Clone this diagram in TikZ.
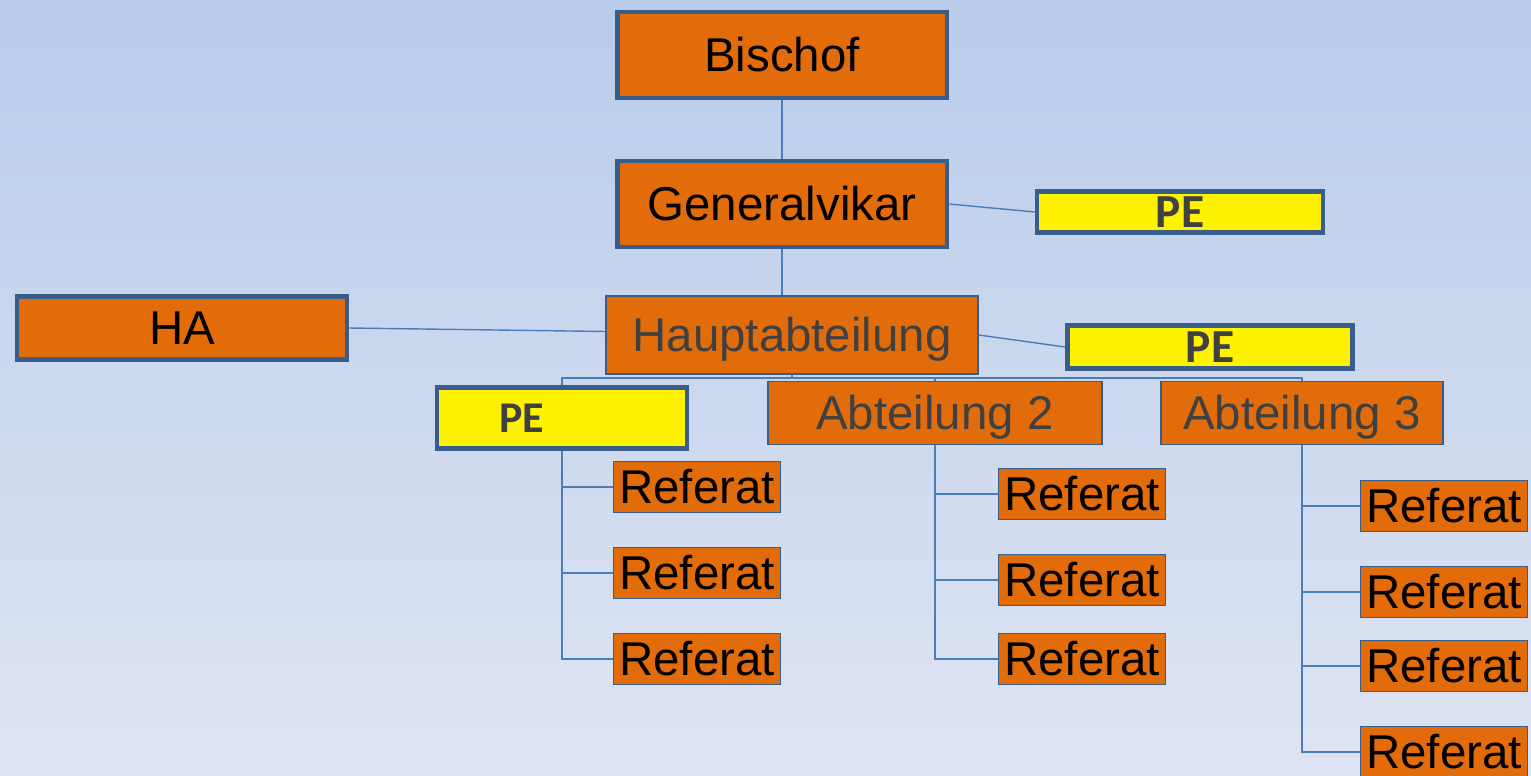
\documentclass[tikz,border=0pt]{standalone}
\usepackage{fontspec}
\setmainfont{Liberation Sans}
\newfontfamily\pefont{Carlito}
\usetikzlibrary{positioning}
\definecolor{org}{RGB}{227,108,10}
\definecolor{bdr}{RGB}{56,93,138}
\definecolor{lnc}{RGB}{74,126,187}
\definecolor{txg}{RGB}{64,64,64}
\definecolor{bgtop}{RGB}{185,204,234}
\definecolor{bgbot}{RGB}{222,228,243}
\tikzset{bx/.style={draw=bdr,line width=2.8pt,fill=org,inner sep=0pt,text height=19.3pt,text depth=0pt,font=\fontsize{27}{32}\selectfont},
 tb/.style={draw=bdr,line width=0.8pt,fill=org,inner sep=0pt,text height=19.3pt,text depth=0pt,font=\fontsize{27}{32}\selectfont},
 pe/.style={draw=bdr,line width=2.6pt,fill=yellow,inner sep=0pt,text=txg,text height=17.4pt,text depth=0pt,font=\pefont\bfseries\fontsize{27}{32}\selectfont},
 rf/.style={tb,minimum width=3.34cm,minimum height=1.02cm},
 ln/.style={draw=lnc,line width=0.8pt}}

\begin{document}
\begin{tikzpicture}[x=0.02cm,y=-0.02cm]
\useasboundingbox (0,0) rectangle (1531,775);\clip (0,0) rectangle (1531,775);
\fill[top color=bgtop,bottom color=bgbot] (0,0) rectangle (1531,775);
% obere Ebene
\node[bx,minimum width=6.6cm,minimum height=1.72cm](bis) at (782,55){Bischof};
\node[bx,minimum width=6.6cm,minimum height=1.72cm](gv) at (782,204){Generalvikar};
\node[pe,minimum width=5.72cm,minimum height=0.82cm](pe1) at (1180,212){PE};
\node[tb,text=txg,minimum width=7.44cm,minimum height=1.56cm](hab) at (792,335){Hauptabteilung};
\node[bx,minimum width=6.6cm,minimum height=1.26cm](ha) at (182,328){HA};
\node[pe,minimum width=5.7cm,minimum height=0.86cm](pe2) at (1210,347){PE};
% Abteilungen
\node[pe,text height=16.1pt,font=\pefont\bfseries\fontsize{25}{30}\selectfont,minimum width=5.0cm,minimum height=1.22cm](pe3) at (562,418){PE\hspace*{1.6cm}};
\node[tb,text=txg,minimum width=6.68cm,minimum height=1.26cm](ab2) at (935,413){Abteilung 2};
\node[tb,text=txg,minimum width=5.64cm,minimum height=1.26cm](ab3) at (1302,413){Abteilung 3};
% Referate
\node[rf](r11) at (697,487){Referat};\node[rf](r12) at (697,573){Referat};\node[rf](r13) at (697,659){Referat};
\node[rf](r21) at (1082,494){Referat};\node[rf](r22) at (1082,580){Referat};\node[rf](r23) at (1082,659){Referat};
\node[rf](r31) at (1444,506){Referat};\node[rf](r32) at (1444,592){Referat};\node[rf](r33) at (1444,666){Referat};\node[rf](r34) at (1444,752){Referat};
% Linien
\coordinate (bus) at (792,378);
\draw[ln](bis)--(gv);\draw[ln](gv.south)--(gv.south|-hab.north);\draw[ln](gv.east)--(pe1.west);
\draw[ln](ha.east)--([yshift=2pt]hab.west);\draw[ln](hab.east)--(pe2.west);
\draw[ln](hab.south)--(bus);\draw[ln](pe3.north)|-(bus)-|(ab2.north);\draw[ln](bus)-|(ab3.north);
\draw[ln](pe3.south)|-(r13.west);\draw[ln](pe3.south|-r11.west)--(r11.west);\draw[ln](pe3.south|-r12.west)--(r12.west);
\draw[ln](ab2.south)|-(r23.west);\draw[ln](ab2.south|-r21.west)--(r21.west);\draw[ln](ab2.south|-r22.west)--(r22.west);
\draw[ln](ab3.south)|-(r34.west);\draw[ln](ab3.south|-r31.west)--(r31.west);\draw[ln](ab3.south|-r32.west)--(r32.west);\draw[ln](ab3.south|-r33.west)--(r33.west);
\end{tikzpicture}
\end{document}
